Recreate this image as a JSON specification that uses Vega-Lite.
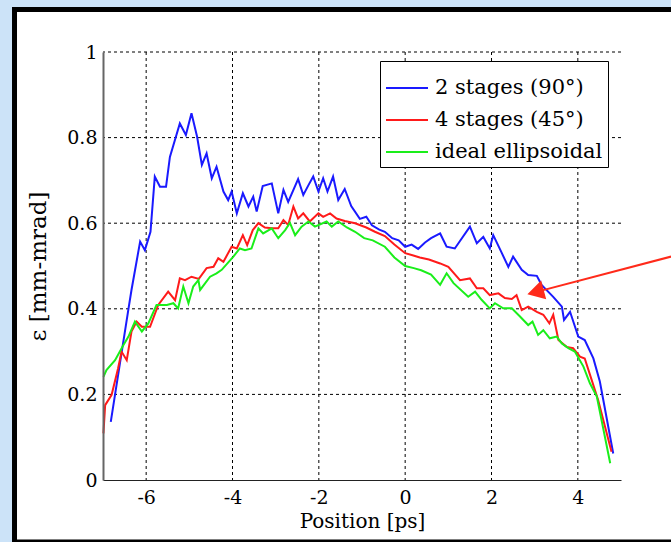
{
  "$schema": "https://vega.github.io/schema/vega-lite/v6.json",
  "width": 518,
  "height": 428,
  "autosize": {"type": "none"},
  "padding": {"left": 103, "top": 52, "right": 50, "bottom": 62},
  "background": "#cce3f8",
  "config": {
    "view": {"stroke": null},
    "font": "DejaVu Serif"
  },
  "datasets": {
    "frame": [{"x1": -9.05, "x2": 6.8, "y1": 1.0993, "y2": -0.145}],
    "gridx": [{"v": -6}, {"v": -4}, {"v": -2}, {"v": 0}, {"v": 2}, {"v": 4}],
    "gridy": [{"v": 0.2}, {"v": 0.4}, {"v": 0.6}, {"v": 0.8}, {"v": 1}],
    "arrow": [{"x1": 6.16, "y1": 0.522, "x2": 3.02, "y2": 0.439}],
    "curves": [
      {"s": "2 stages (90°)", "x": -6.82, "y": 0.136},
      {"s": "2 stages (90°)", "x": -6.41, "y": 0.40},
      {"s": "2 stages (90°)", "x": -6.34, "y": 0.444},
      {"s": "2 stages (90°)", "x": -6.14, "y": 0.557},
      {"s": "2 stages (90°)", "x": -6.03, "y": 0.537},
      {"s": "2 stages (90°)", "x": -5.90, "y": 0.58},
      {"s": "2 stages (90°)", "x": -5.80, "y": 0.709},
      {"s": "2 stages (90°)", "x": -5.68, "y": 0.685},
      {"s": "2 stages (90°)", "x": -5.54, "y": 0.685},
      {"s": "2 stages (90°)", "x": -5.45, "y": 0.755},
      {"s": "2 stages (90°)", "x": -5.22, "y": 0.833},
      {"s": "2 stages (90°)", "x": -5.08, "y": 0.806},
      {"s": "2 stages (90°)", "x": -4.95, "y": 0.857},
      {"s": "2 stages (90°)", "x": -4.82, "y": 0.802},
      {"s": "2 stages (90°)", "x": -4.71, "y": 0.736},
      {"s": "2 stages (90°)", "x": -4.60, "y": 0.763},
      {"s": "2 stages (90°)", "x": -4.48, "y": 0.705},
      {"s": "2 stages (90°)", "x": -4.37, "y": 0.732},
      {"s": "2 stages (90°)", "x": -4.21, "y": 0.674},
      {"s": "2 stages (90°)", "x": -4.10, "y": 0.654},
      {"s": "2 stages (90°)", "x": -4.02, "y": 0.674},
      {"s": "2 stages (90°)", "x": -3.90, "y": 0.623},
      {"s": "2 stages (90°)", "x": -3.76, "y": 0.670},
      {"s": "2 stages (90°)", "x": -3.63, "y": 0.639},
      {"s": "2 stages (90°)", "x": -3.52, "y": 0.662},
      {"s": "2 stages (90°)", "x": -3.44, "y": 0.627},
      {"s": "2 stages (90°)", "x": -3.30, "y": 0.687},
      {"s": "2 stages (90°)", "x": -3.09, "y": 0.693},
      {"s": "2 stages (90°)", "x": -2.94, "y": 0.623},
      {"s": "2 stages (90°)", "x": -2.82, "y": 0.678},
      {"s": "2 stages (90°)", "x": -2.71, "y": 0.650},
      {"s": "2 stages (90°)", "x": -2.48, "y": 0.703},
      {"s": "2 stages (90°)", "x": -2.36, "y": 0.666},
      {"s": "2 stages (90°)", "x": -2.24, "y": 0.689},
      {"s": "2 stages (90°)", "x": -2.13, "y": 0.709},
      {"s": "2 stages (90°)", "x": -2.01, "y": 0.674},
      {"s": "2 stages (90°)", "x": -1.90, "y": 0.705},
      {"s": "2 stages (90°)", "x": -1.80, "y": 0.674},
      {"s": "2 stages (90°)", "x": -1.67, "y": 0.709},
      {"s": "2 stages (90°)", "x": -1.55, "y": 0.654},
      {"s": "2 stages (90°)", "x": -1.40, "y": 0.68},
      {"s": "2 stages (90°)", "x": -1.25, "y": 0.64},
      {"s": "2 stages (90°)", "x": -1.05, "y": 0.61},
      {"s": "2 stages (90°)", "x": -0.90, "y": 0.615},
      {"s": "2 stages (90°)", "x": -0.77, "y": 0.595},
      {"s": "2 stages (90°)", "x": -0.60, "y": 0.585},
      {"s": "2 stages (90°)", "x": -0.47, "y": 0.58},
      {"s": "2 stages (90°)", "x": -0.30, "y": 0.565},
      {"s": "2 stages (90°)", "x": -0.15, "y": 0.56},
      {"s": "2 stages (90°)", "x": 0.00, "y": 0.545},
      {"s": "2 stages (90°)", "x": 0.15, "y": 0.55},
      {"s": "2 stages (90°)", "x": 0.30, "y": 0.54},
      {"s": "2 stages (90°)", "x": 0.46, "y": 0.555},
      {"s": "2 stages (90°)", "x": 0.60, "y": 0.565},
      {"s": "2 stages (90°)", "x": 0.81, "y": 0.576},
      {"s": "2 stages (90°)", "x": 0.96, "y": 0.545},
      {"s": "2 stages (90°)", "x": 1.15, "y": 0.541},
      {"s": "2 stages (90°)", "x": 1.50, "y": 0.592},
      {"s": "2 stages (90°)", "x": 1.66, "y": 0.553},
      {"s": "2 stages (90°)", "x": 1.81, "y": 0.568},
      {"s": "2 stages (90°)", "x": 1.96, "y": 0.541},
      {"s": "2 stages (90°)", "x": 2.04, "y": 0.572},
      {"s": "2 stages (90°)", "x": 2.24, "y": 0.530},
      {"s": "2 stages (90°)", "x": 2.39, "y": 0.498},
      {"s": "2 stages (90°)", "x": 2.50, "y": 0.522},
      {"s": "2 stages (90°)", "x": 2.70, "y": 0.491},
      {"s": "2 stages (90°)", "x": 2.85, "y": 0.479},
      {"s": "2 stages (90°)", "x": 3.05, "y": 0.477},
      {"s": "2 stages (90°)", "x": 3.16, "y": 0.456},
      {"s": "2 stages (90°)", "x": 3.43, "y": 0.428},
      {"s": "2 stages (90°)", "x": 3.63, "y": 0.405},
      {"s": "2 stages (90°)", "x": 3.68, "y": 0.374},
      {"s": "2 stages (90°)", "x": 3.82, "y": 0.393},
      {"s": "2 stages (90°)", "x": 4.01, "y": 0.335},
      {"s": "2 stages (90°)", "x": 4.16, "y": 0.327},
      {"s": "2 stages (90°)", "x": 4.36, "y": 0.284},
      {"s": "2 stages (90°)", "x": 4.51, "y": 0.230},
      {"s": "2 stages (90°)", "x": 4.59, "y": 0.187},
      {"s": "2 stages (90°)", "x": 4.82, "y": 0.062},

      {"s": "4 stages (45°)", "x": -6.99, "y": 0.109},
      {"s": "4 stages (45°)", "x": -6.95, "y": 0.175},
      {"s": "4 stages (45°)", "x": -6.80, "y": 0.199},
      {"s": "4 stages (45°)", "x": -6.65, "y": 0.261},
      {"s": "4 stages (45°)", "x": -6.57, "y": 0.30},
      {"s": "4 stages (45°)", "x": -6.45, "y": 0.28},
      {"s": "4 stages (45°)", "x": -6.34, "y": 0.347},
      {"s": "4 stages (45°)", "x": -6.22, "y": 0.37},
      {"s": "4 stages (45°)", "x": -6.10, "y": 0.358},
      {"s": "4 stages (45°)", "x": -5.91, "y": 0.358},
      {"s": "4 stages (45°)", "x": -5.72, "y": 0.409},
      {"s": "4 stages (45°)", "x": -5.49, "y": 0.44},
      {"s": "4 stages (45°)", "x": -5.33, "y": 0.42},
      {"s": "4 stages (45°)", "x": -5.22, "y": 0.471},
      {"s": "4 stages (45°)", "x": -5.10, "y": 0.467},
      {"s": "4 stages (45°)", "x": -4.95, "y": 0.475},
      {"s": "4 stages (45°)", "x": -4.78, "y": 0.47},
      {"s": "4 stages (45°)", "x": -4.60, "y": 0.495},
      {"s": "4 stages (45°)", "x": -4.44, "y": 0.498},
      {"s": "4 stages (45°)", "x": -4.33, "y": 0.518},
      {"s": "4 stages (45°)", "x": -4.21, "y": 0.510},
      {"s": "4 stages (45°)", "x": -4.02, "y": 0.545},
      {"s": "4 stages (45°)", "x": -3.90, "y": 0.541},
      {"s": "4 stages (45°)", "x": -3.76, "y": 0.572},
      {"s": "4 stages (45°)", "x": -3.66, "y": 0.549},
      {"s": "4 stages (45°)", "x": -3.53, "y": 0.584},
      {"s": "4 stages (45°)", "x": -3.40, "y": 0.60},
      {"s": "4 stages (45°)", "x": -3.25, "y": 0.59},
      {"s": "4 stages (45°)", "x": -3.09, "y": 0.588},
      {"s": "4 stages (45°)", "x": -2.94, "y": 0.588},
      {"s": "4 stages (45°)", "x": -2.82, "y": 0.607},
      {"s": "4 stages (45°)", "x": -2.71, "y": 0.596},
      {"s": "4 stages (45°)", "x": -2.59, "y": 0.639},
      {"s": "4 stages (45°)", "x": -2.48, "y": 0.611},
      {"s": "4 stages (45°)", "x": -2.36, "y": 0.623},
      {"s": "4 stages (45°)", "x": -2.21, "y": 0.604},
      {"s": "4 stages (45°)", "x": -2.01, "y": 0.623},
      {"s": "4 stages (45°)", "x": -1.90, "y": 0.615},
      {"s": "4 stages (45°)", "x": -1.74, "y": 0.623},
      {"s": "4 stages (45°)", "x": -1.59, "y": 0.611},
      {"s": "4 stages (45°)", "x": -1.40, "y": 0.605},
      {"s": "4 stages (45°)", "x": -1.16, "y": 0.60},
      {"s": "4 stages (45°)", "x": -0.90, "y": 0.59},
      {"s": "4 stages (45°)", "x": -0.70, "y": 0.58},
      {"s": "4 stages (45°)", "x": -0.47, "y": 0.57},
      {"s": "4 stages (45°)", "x": -0.25, "y": 0.55},
      {"s": "4 stages (45°)", "x": 0.00, "y": 0.53},
      {"s": "4 stages (45°)", "x": 0.17, "y": 0.525},
      {"s": "4 stages (45°)", "x": 0.34, "y": 0.52},
      {"s": "4 stages (45°)", "x": 0.55, "y": 0.515},
      {"s": "4 stages (45°)", "x": 0.81, "y": 0.506},
      {"s": "4 stages (45°)", "x": 1.00, "y": 0.498},
      {"s": "4 stages (45°)", "x": 1.27, "y": 0.467},
      {"s": "4 stages (45°)", "x": 1.50, "y": 0.471},
      {"s": "4 stages (45°)", "x": 1.66, "y": 0.448},
      {"s": "4 stages (45°)", "x": 1.81, "y": 0.448},
      {"s": "4 stages (45°)", "x": 1.96, "y": 0.432},
      {"s": "4 stages (45°)", "x": 2.16, "y": 0.436},
      {"s": "4 stages (45°)", "x": 2.31, "y": 0.425},
      {"s": "4 stages (45°)", "x": 2.47, "y": 0.423},
      {"s": "4 stages (45°)", "x": 2.58, "y": 0.432},
      {"s": "4 stages (45°)", "x": 2.70, "y": 0.397},
      {"s": "4 stages (45°)", "x": 2.85, "y": 0.405},
      {"s": "4 stages (45°)", "x": 3.05, "y": 0.393},
      {"s": "4 stages (45°)", "x": 3.20, "y": 0.386},
      {"s": "4 stages (45°)", "x": 3.34, "y": 0.366},
      {"s": "4 stages (45°)", "x": 3.43, "y": 0.386},
      {"s": "4 stages (45°)", "x": 3.55, "y": 0.327},
      {"s": "4 stages (45°)", "x": 3.74, "y": 0.311},
      {"s": "4 stages (45°)", "x": 3.89, "y": 0.308},
      {"s": "4 stages (45°)", "x": 4.05, "y": 0.288},
      {"s": "4 stages (45°)", "x": 4.16, "y": 0.284},
      {"s": "4 stages (45°)", "x": 4.32, "y": 0.234},
      {"s": "4 stages (45°)", "x": 4.47, "y": 0.187},
      {"s": "4 stages (45°)", "x": 4.78, "y": 0.066},

      {"s": "ideal ellipsoidal", "x": -6.99, "y": 0.241},
      {"s": "ideal ellipsoidal", "x": -6.92, "y": 0.257},
      {"s": "ideal ellipsoidal", "x": -6.72, "y": 0.28},
      {"s": "ideal ellipsoidal", "x": -6.53, "y": 0.315},
      {"s": "ideal ellipsoidal", "x": -6.41, "y": 0.335},
      {"s": "ideal ellipsoidal", "x": -6.26, "y": 0.37},
      {"s": "ideal ellipsoidal", "x": -6.10, "y": 0.347},
      {"s": "ideal ellipsoidal", "x": -5.95, "y": 0.366},
      {"s": "ideal ellipsoidal", "x": -5.76, "y": 0.409},
      {"s": "ideal ellipsoidal", "x": -5.52, "y": 0.409},
      {"s": "ideal ellipsoidal", "x": -5.37, "y": 0.413},
      {"s": "ideal ellipsoidal", "x": -5.26, "y": 0.401},
      {"s": "ideal ellipsoidal", "x": -5.14, "y": 0.452},
      {"s": "ideal ellipsoidal", "x": -5.02, "y": 0.413},
      {"s": "ideal ellipsoidal", "x": -4.91, "y": 0.452},
      {"s": "ideal ellipsoidal", "x": -4.79, "y": 0.467},
      {"s": "ideal ellipsoidal", "x": -4.75, "y": 0.444},
      {"s": "ideal ellipsoidal", "x": -4.52, "y": 0.475},
      {"s": "ideal ellipsoidal", "x": -4.37, "y": 0.483},
      {"s": "ideal ellipsoidal", "x": -4.25, "y": 0.491},
      {"s": "ideal ellipsoidal", "x": -3.98, "y": 0.522},
      {"s": "ideal ellipsoidal", "x": -3.83, "y": 0.541},
      {"s": "ideal ellipsoidal", "x": -3.71, "y": 0.537},
      {"s": "ideal ellipsoidal", "x": -3.56, "y": 0.541},
      {"s": "ideal ellipsoidal", "x": -3.40, "y": 0.588},
      {"s": "ideal ellipsoidal", "x": -3.29, "y": 0.576},
      {"s": "ideal ellipsoidal", "x": -3.09, "y": 0.588},
      {"s": "ideal ellipsoidal", "x": -2.94, "y": 0.565},
      {"s": "ideal ellipsoidal", "x": -2.78, "y": 0.584},
      {"s": "ideal ellipsoidal", "x": -2.67, "y": 0.601},
      {"s": "ideal ellipsoidal", "x": -2.55, "y": 0.572},
      {"s": "ideal ellipsoidal", "x": -2.40, "y": 0.592},
      {"s": "ideal ellipsoidal", "x": -2.24, "y": 0.604},
      {"s": "ideal ellipsoidal", "x": -2.09, "y": 0.592},
      {"s": "ideal ellipsoidal", "x": -1.82, "y": 0.604},
      {"s": "ideal ellipsoidal", "x": -1.70, "y": 0.592},
      {"s": "ideal ellipsoidal", "x": -1.55, "y": 0.604},
      {"s": "ideal ellipsoidal", "x": -1.35, "y": 0.59},
      {"s": "ideal ellipsoidal", "x": -1.16, "y": 0.58},
      {"s": "ideal ellipsoidal", "x": -0.95, "y": 0.565},
      {"s": "ideal ellipsoidal", "x": -0.75, "y": 0.56},
      {"s": "ideal ellipsoidal", "x": -0.47, "y": 0.545},
      {"s": "ideal ellipsoidal", "x": -0.25, "y": 0.52},
      {"s": "ideal ellipsoidal", "x": 0.00, "y": 0.50},
      {"s": "ideal ellipsoidal", "x": 0.20, "y": 0.495},
      {"s": "ideal ellipsoidal", "x": 0.37, "y": 0.49},
      {"s": "ideal ellipsoidal", "x": 0.60, "y": 0.48},
      {"s": "ideal ellipsoidal", "x": 0.81, "y": 0.456},
      {"s": "ideal ellipsoidal", "x": 0.96, "y": 0.483},
      {"s": "ideal ellipsoidal", "x": 1.12, "y": 0.46},
      {"s": "ideal ellipsoidal", "x": 1.46, "y": 0.428},
      {"s": "ideal ellipsoidal", "x": 1.62, "y": 0.44},
      {"s": "ideal ellipsoidal", "x": 1.77, "y": 0.421},
      {"s": "ideal ellipsoidal", "x": 1.96, "y": 0.401},
      {"s": "ideal ellipsoidal", "x": 2.08, "y": 0.413},
      {"s": "ideal ellipsoidal", "x": 2.27, "y": 0.401},
      {"s": "ideal ellipsoidal", "x": 2.47, "y": 0.401},
      {"s": "ideal ellipsoidal", "x": 2.66, "y": 0.382},
      {"s": "ideal ellipsoidal", "x": 2.85, "y": 0.362},
      {"s": "ideal ellipsoidal", "x": 2.95, "y": 0.37},
      {"s": "ideal ellipsoidal", "x": 3.08, "y": 0.339},
      {"s": "ideal ellipsoidal", "x": 3.20, "y": 0.35},
      {"s": "ideal ellipsoidal", "x": 3.35, "y": 0.331},
      {"s": "ideal ellipsoidal", "x": 3.51, "y": 0.335},
      {"s": "ideal ellipsoidal", "x": 3.63, "y": 0.319},
      {"s": "ideal ellipsoidal", "x": 3.78, "y": 0.308},
      {"s": "ideal ellipsoidal", "x": 3.93, "y": 0.30},
      {"s": "ideal ellipsoidal", "x": 4.13, "y": 0.265},
      {"s": "ideal ellipsoidal", "x": 4.28, "y": 0.226},
      {"s": "ideal ellipsoidal", "x": 4.44, "y": 0.195},
      {"s": "ideal ellipsoidal", "x": 4.75, "y": 0.039}
    ]
  },
  "layer": [
    {
      "data": {"name": "frame"},
      "mark": {"type": "rect", "fill": "white", "stroke": "black", "strokeWidth": 5, "clip": false},
      "encoding": {
        "x": {"field": "x1", "type": "quantitative", "scale": {"domain": [-7, 5], "nice": false, "zero": false}},
        "x2": {"field": "x2"},
        "y": {"field": "y1", "type": "quantitative", "scale": {"domain": [0, 1], "nice": false}},
        "y2": {"field": "y2"}
      }
    },
    {
      "data": {"name": "gridx"},
      "mark": {"type": "rule", "stroke": "black", "strokeWidth": 1, "strokeDash": [3, 3]},
      "encoding": {
        "x": {"field": "v", "type": "quantitative"}
      }
    },
    {
      "data": {"name": "gridy"},
      "mark": {"type": "rule", "stroke": "black", "strokeWidth": 1, "strokeDash": [3, 3]},
      "encoding": {
        "y": {"field": "v", "type": "quantitative"}
      }
    },
    {
      "data": {"name": "curves"},
      "mark": {"type": "line", "strokeWidth": 2},
      "encoding": {
        "x": {
          "field": "x", "type": "quantitative",
          "axis": {
            "values": [-6, -4, -2, 0, 2, 4],
            "title": "Position [ps]",
            "grid": false, "ticks": false,
            "domainColor": "#222", "domainWidth": 1.2,
            "labelFont": "DejaVu Serif", "labelFontSize": 19, "labelColor": "black",
            "labelPadding": 8, "labelFlush": false,
            "labelExpr": "replace(datum.label, '−', '-')",
            "titleFont": "DejaVu Serif", "titleFontSize": 20, "titleFontWeight": "normal", "titleColor": "black",
            "titlePadding": 4,
            "zindex": 1
          }
        },
        "y": {
          "field": "y", "type": "quantitative",
          "axis": {
            "values": [0, 0.2, 0.4, 0.6, 0.8, 1],
            "format": "~g",
            "title": "ε [mm-mrad]",
            "grid": false, "ticks": false,
            "domainColor": "#666", "domainWidth": 2,
            "labelFont": "DejaVu Serif", "labelFontSize": 19, "labelColor": "black",
            "labelPadding": 6, "labelFlush": false,
            "titleFont": "DejaVu Serif", "titleFontSize": 23, "titleFontWeight": "normal", "titleColor": "black",
            "titlePadding": 16,
            "zindex": 1
          }
        },
        "color": {
          "field": "s", "type": "nominal",
          "scale": {"domain": ["2 stages (90°)", "4 stages (45°)", "ideal ellipsoidal"], "range": ["#1a1aff", "#ff1a1a", "#1aee1a"]},
          "legend": {
            "title": null,
            "orient": "none", "legendX": 277, "legendY": 9,
            "symbolType": "stroke", "symbolSize": 1764, "symbolStrokeWidth": 2,
            "labelFont": "DejaVu Serif", "labelFontSize": 21, "labelColor": "black", "labelOffset": 6, "labelLimit": 0,
            "rowPadding": -1, "padding": 5,
            "strokeColor": "black", "fillColor": "white"
          }
        }
      }
    },
    {
      "data": {"name": "arrow"},
      "mark": {"type": "rule", "stroke": "#ff2a1a", "strokeWidth": 2, "clip": false},
      "encoding": {
        "x": {"field": "x1", "type": "quantitative"},
        "x2": {"field": "x2"},
        "y": {"field": "y1", "type": "quantitative"},
        "y2": {"field": "y2"}
      }
    },
    {
      "data": {"name": "arrow"},
      "mark": {"type": "point", "shape": "triangle-left", "filled": true, "fill": "#ff2a1a", "opacity": 1, "size": 380, "angle": 345},
      "encoding": {
        "x": {"field": "x2", "type": "quantitative"},
        "y": {"field": "y2", "type": "quantitative"}
      }
    }
  ]
}
